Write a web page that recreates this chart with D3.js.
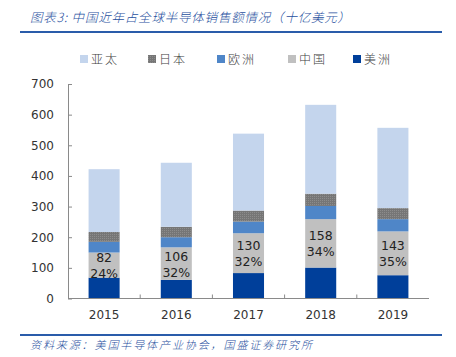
<!DOCTYPE html>
<html><head><meta charset="utf-8">
<script src="https://cdn.jsdelivr.net/npm/d3@7/dist/d3.min.js"></script>
<style>body{margin:0;background:#fff}svg{display:block}</style>
</head><body>
<svg id="c" width="456" height="357"></svg>
<script>
const years = ["2015","2016","2017","2018","2019"];
const americas = [68, 61, 83, 101, 76];
const china = [82, 106, 130, 158, 143];
const europe = [35, 33, 38, 43, 40];
const japan = [32, 34, 36, 40, 36];
const asiaPac = [205, 209, 251, 290, 262];
const chinaShare = ["24%", "32%", "32%", "34%", "35%"];
const yTicks = [0,100,200,300,400,500,600,700];
const seriesNames = ["美洲","中国","欧洲","日本","亚太"];
const legendOrder = ["亚太","日本","欧洲","中国","美洲"];
const colors = {"美洲":"#003f9a","中国":"#c0c0c0","欧洲":"#4f86c8","日本":"#808080","亚太":"#c4d5ed"};

const svg = d3.select("#c");
const font = "Tahoma, 'DejaVu Sans', Verdana, sans-serif";
const cjk = "'Noto Sans CJK SC', sans-serif";

const x = d3.scaleBand().domain(years).range([68, 429]).paddingInner(0.57).paddingOuter(0.285);
const y = d3.scaleLinear().domain([0, 700]).range([298.5, 84]);

const rows = years.map((yr,i)=>({year:yr,"美洲":americas[i],"中国":china[i],"欧洲":europe[i],"日本":japan[i],"亚太":asiaPac[i]}));
const stacked = d3.stack().keys(seriesNames)(rows);

const defs = svg.append("defs");
const pat = defs.append("pattern").attr("id","dots").attr("width",2).attr("height",2).attr("patternUnits","userSpaceOnUse");
pat.append("rect").attr("width",2).attr("height",2).attr("fill","#767676");
pat.append("rect").attr("width",1).attr("height",1).attr("fill","#8c8c8c");

// title
svg.append("text").attr("x",30).attr("y",22).attr("font-family",cjk).attr("font-size",12.5).attr("font-weight",300)
  .attr("font-style","italic").attr("fill","#1f4f9e").attr("letter-spacing","0.8")
  .text("图表3:  中国近年占全球半导体销售额情况（十亿美元）");
svg.append("line").attr("x1",20).attr("x2",442).attr("y1",32).attr("y2",32).attr("stroke","#2a5caa").attr("stroke-width",2);

// legend
const legX = [80,148,217,288,353];
legendOrder.forEach((k,i)=>{
  const g = svg.append("g").attr("transform",`translate(${legX[i]},60)`);
  g.append("rect").attr("x",0).attr("y",-5).attr("width",8).attr("height",8).attr("fill", k==="日本"?"url(#dots)":colors[k]);
  g.append("text").attr("x",11).attr("y",3.5).attr("font-family",cjk).attr("font-size",12).attr("font-weight",300).attr("fill","#404040").attr("letter-spacing","2").text(k);
});

// bars
stacked.forEach(s=>{
  svg.append("g").selectAll("rect").data(s).join("rect")
    .attr("x", d=>x(d.data.year)).attr("width", x.bandwidth())
    .attr("y", d=>y(d[1])).attr("height", d=>y(d[0])-y(d[1]))
    .attr("fill", s.key==="日本"?"url(#dots)":colors[s.key]);
});

// china labels
const chinaLayer = stacked[1];
const lab = svg.append("g");
chinaLayer.forEach((d,i)=>{
  const cx = x(d.data.year)+x.bandwidth()/2;
  const mid = (y(d[0])+y(d[1]))/2;
  lab.append("text").attr("x",cx).attr("y",mid-3).attr("text-anchor","middle").attr("font-family",font).attr("font-size",12.5).attr("fill","#222").text(china[i]);
  lab.append("text").attr("x",cx).attr("y",mid+13).attr("text-anchor","middle").attr("font-family",font).attr("font-size",12.5).attr("fill","#222").text(chinaShare[i]);
});

// y axis
const yAx = svg.append("g").attr("transform","translate(68,0)")
  .call(d3.axisLeft(y).tickValues(yTicks).tickSize(4).tickSizeOuter(0).tickPadding(10));
yAx.select(".domain").attr("stroke","#8a8a8a");
yAx.selectAll(".tick line").attr("stroke","#8a8a8a").attr("x2",4).attr("x1",0);
yAx.selectAll("text").attr("font-family",font).attr("font-size",12).attr("fill","#333");

// x axis
const xAx = svg.append("g").attr("transform","translate(0,298.5)")
  .call(d3.axisBottom(x).tickSize(0).tickPadding(12));
xAx.select(".domain").attr("stroke","#8a8a8a").attr("d","M68,0H429");
xAx.selectAll("text").attr("font-family",font).attr("font-size",12).attr("fill","#333");
const step = x.step();
d3.range(1,years.length).forEach(i=>{
  const sx = x(years[i]) - (step - x.bandwidth())/2;
  xAx.append("line").attr("x1",sx).attr("x2",sx).attr("y1",0).attr("y2",-4).attr("stroke","#8a8a8a");
});

// source
svg.append("line").attr("x1",20).attr("x2",442).attr("y1",335).attr("y2",335).attr("stroke","#2a5caa").attr("stroke-width",2);
svg.append("text").attr("x",30).attr("y",349).attr("font-family",cjk).attr("font-size",11).attr("font-weight",300).attr("font-style","italic").attr("fill","#1f4f9e").attr("letter-spacing","1.9")
  .text("资料来源：美国半导体产业协会，国盛证券研究所");
</script>
</body></html>
